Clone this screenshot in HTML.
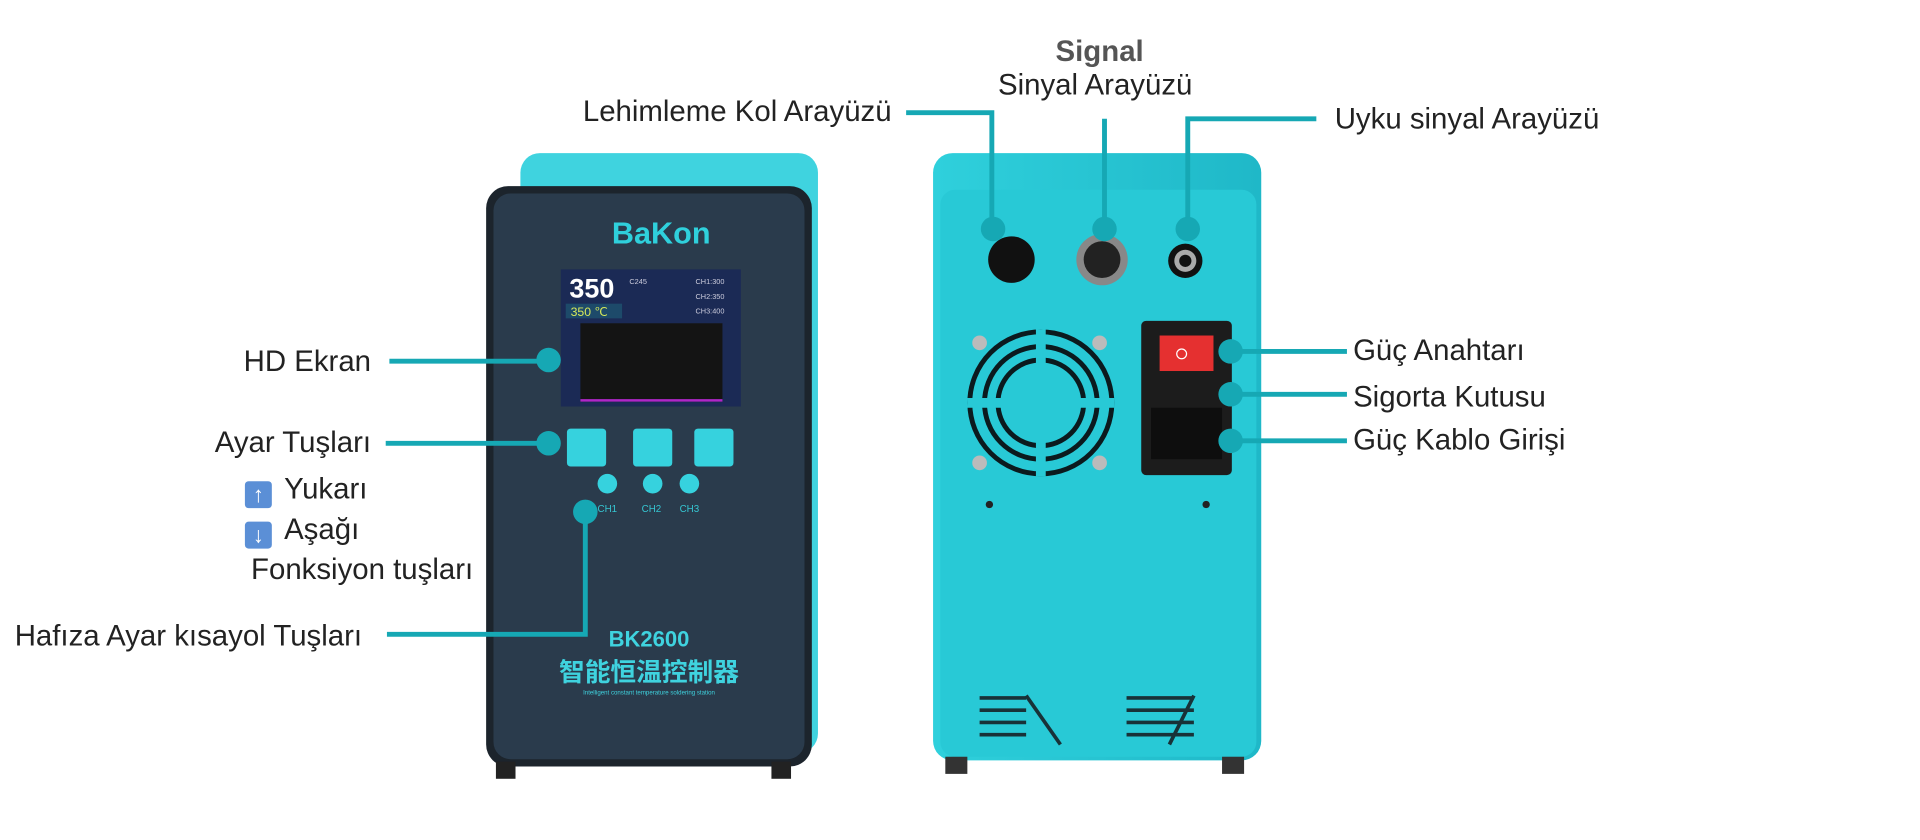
<!DOCTYPE html>
<html><head><meta charset="utf-8"><style>
html,body{margin:0;padding:0;background:#fff;width:1920px;height:840px;overflow:hidden}
#s{position:absolute;left:0;top:0;width:1568px;height:686px;transform:scale(1.2245);transform-origin:0 0}
.t{position:absolute;font-family:"Liberation Sans","Noto Sans CJK SC",sans-serif;font-size:24px;color:#222;white-space:nowrap;line-height:1}
.ar{display:inline-block;width:22px;height:22px;background:#5b8fd6;border-radius:3px;color:#fff;font-size:18px;text-align:center;line-height:22px;vertical-align:-3px;margin-right:10px}
</style></head><body><div id="s">
<svg width="1568" height="686" style="position:absolute;left:0;top:0">
<defs><linearGradient id="cy" x1="0" x2="1"><stop offset="0" stop-color="#2fd0dc"/><stop offset="1" stop-color="#1fb8c8"/></linearGradient></defs>
<rect x="425" y="125" width="243" height="490" rx="16" fill="#3fd3df"/>
<rect x="397" y="152" width="266" height="474" rx="18" fill="#1c242c"/>
<rect x="403" y="158" width="254" height="462" rx="14" fill="#2a3b4c"/>
<rect x="405" y="622" width="16" height="14" fill="#222"/><rect x="630" y="622" width="16" height="14" fill="#222"/>
<text x="540" y="199" text-anchor="middle" font-family="Liberation Sans" font-weight="bold" font-size="25" fill="#2fd0dc">BaKon</text>
<rect x="458" y="220" width="147" height="112" fill="#1b2a55"/>
<text x="465" y="243" font-family="Liberation Sans" font-weight="bold" font-size="22" fill="#fff">350</text>
<rect x="462" y="248" width="46" height="12" fill="#1d4a6a"/>
<text x="466" y="258" font-family="Liberation Sans" font-size="10" fill="#d6e85a">350 ℃</text>
<text x="514" y="232" font-family="Liberation Sans" font-size="6" fill="#ccd">C245</text>
<text x="568" y="232" font-family="Liberation Sans" font-size="6" fill="#ccd">CH1:300</text>
<text x="568" y="244" font-family="Liberation Sans" font-size="6" fill="#ccd">CH2:350</text>
<text x="568" y="256" font-family="Liberation Sans" font-size="6" fill="#ccd">CH3:400</text>
<rect x="474" y="264" width="116" height="64" fill="#141414"/>
<line x1="474" y1="327" x2="590" y2="327" stroke="#b026c8" stroke-width="2"/>
<rect x="463" y="350" width="32" height="31" rx="3" fill="#36d2de"/>
<rect x="517" y="350" width="32" height="31" rx="3" fill="#36d2de"/>
<rect x="567" y="350" width="32" height="31" rx="3" fill="#36d2de"/>
<circle cx="496" cy="395" r="8" fill="#36d2de"/><circle cx="533" cy="395" r="8" fill="#36d2de"/><circle cx="563" cy="395" r="8" fill="#36d2de"/>
<g font-family="Liberation Sans" font-size="8" fill="#36c6d2"><text x="488" y="418">CH1</text><text x="524" y="418">CH2</text><text x="555" y="418">CH3</text></g>
<text x="530" y="528" text-anchor="middle" font-family="Liberation Sans" font-weight="bold" font-size="18" fill="#3fd3df">BK2600</text>
<text x="530" y="556" text-anchor="middle" font-family="Noto Sans CJK SC" font-weight="bold" font-size="21" fill="#3fd3df">智能恒温控制器</text>
<text x="530" y="567" text-anchor="middle" font-family="Liberation Sans" font-size="5" fill="#3fd3df">Intelligent constant temperature soldering station</text>
<rect x="762" y="125" width="268" height="496" rx="16" fill="url(#cy)"/>
<rect x="768" y="155" width="258" height="463" rx="12" fill="#28c9d6"/>
<rect x="772" y="618" width="18" height="14" fill="#333"/><rect x="998" y="618" width="18" height="14" fill="#333"/>
<circle cx="826" cy="212" r="19" fill="#111"/>
<circle cx="900" cy="212" r="21" fill="#888"/><circle cx="900" cy="212" r="15" fill="#222"/>
<circle cx="968" cy="213" r="14" fill="#111"/><circle cx="968" cy="213" r="9" fill="#aaa"/><circle cx="968" cy="213" r="5" fill="#111"/>
<g fill="none" stroke="#0b1a1e" stroke-width="4">
<circle cx="850" cy="329" r="58"/><circle cx="850" cy="329" r="46"/><circle cx="850" cy="329" r="35"/></g>
<g stroke="#28c9d6" stroke-width="8"><line x1="790" y1="329" x2="910" y2="329"/><line x1="850" y1="269" x2="850" y2="389"/></g>
<g fill="#bbb"><circle cx="800" cy="280" r="6"/><circle cx="898" cy="280" r="6"/><circle cx="800" cy="378" r="6"/><circle cx="898" cy="378" r="6"/></g>
<rect x="932" y="262" width="74" height="126" rx="4" fill="#1c1c1c"/>
<rect x="947" y="274" width="44" height="29" fill="#e53030"/>
<circle cx="965" cy="289" r="4" fill="none" stroke="#fff" stroke-width="1"/>
<rect x="940" y="333" width="58" height="42" fill="#0e0e0e"/>
<circle cx="808" cy="412" r="3" fill="#222"/><circle cx="985" cy="412" r="3" fill="#222"/>
<g stroke="#183238" stroke-width="3">
<line x1="800" y1="570" x2="838" y2="570"/><line x1="800" y1="580" x2="838" y2="580"/><line x1="800" y1="590" x2="838" y2="590"/><line x1="800" y1="600" x2="838" y2="600"/>
<line x1="920" y1="570" x2="975" y2="570"/><line x1="920" y1="580" x2="975" y2="580"/><line x1="920" y1="590" x2="975" y2="590"/><line x1="920" y1="600" x2="975" y2="600"/>
<line x1="838" y1="568" x2="866" y2="608"/><line x1="975" y1="568" x2="955" y2="608"/></g>
<g stroke="#16a8b4" stroke-width="4" fill="none">
<polyline points="318,295 448,295"/><polyline points="315,362 448,362"/>
<polyline points="316,518 478,518 478,418"/>
<polyline points="740,92 810,92 810,187"/><polyline points="902,97 902,187"/><polyline points="970,187 970,97 1075,97"/>
<polyline points="1005,287 1100,287"/><polyline points="1005,322 1100,322"/><polyline points="1005,360 1100,360"/>
</g>
<g fill="#16a8b4">
<circle cx="448" cy="294" r="10"/><circle cx="448" cy="362" r="10"/><circle cx="478" cy="418" r="10"/>
<circle cx="811" cy="187" r="10"/><circle cx="902" cy="187" r="10"/><circle cx="970" cy="187" r="10"/>
<circle cx="1005" cy="287" r="10"/><circle cx="1005" cy="322" r="10"/><circle cx="1005" cy="360" r="10"/>
</g>
</svg>
<div class="t" style="right:1265px;top:284px">HD Ekran</div>
<div class="t" style="right:1265px;top:350px">Ayar Tuşları</div>
<div class="t" style="left:200px;top:388px"><span class="ar">↑</span>Yukarı</div>
<div class="t" style="left:200px;top:421px"><span class="ar">↓</span>Aşağı</div>
<div class="t" style="left:205px;top:454px">Fonksiyon tuşları</div>
<div class="t" style="left:12px;top:508px">Hafıza Ayar kısayol Tuşları</div>
<div class="t" style="left:476px;top:80px">Lehimleme Kol Arayüzü</div>
<div class="t" style="left:862px;top:31px;font-weight:bold;color:#555">Signal</div>
<div class="t" style="left:815px;top:58px">Sinyal Arayüzü</div>
<div class="t" style="left:1090px;top:86px">Uyku sinyal Arayüzü</div>
<div class="t" style="left:1105px;top:275px">Güç Anahtarı</div>
<div class="t" style="left:1105px;top:313px">Sigorta Kutusu</div>
<div class="t" style="left:1105px;top:348px">Güç Kablo Girişi</div>
</div></body></html>
